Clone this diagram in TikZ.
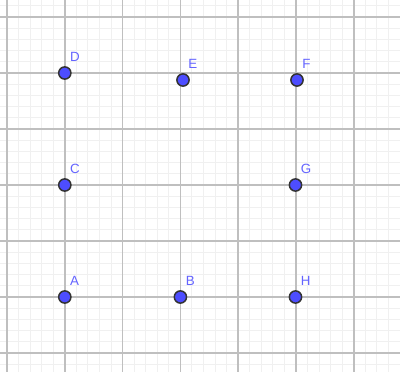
\documentclass[tikz,border=0pt]{standalone}
\usepackage{fontspec}
\setsansfont{Liberation Sans}
\usetikzlibrary{positioning}
\definecolor{ptblue}{RGB}{77,77,255}
\definecolor{lblblue}{RGB}{100,100,255}

\begin{document}
\begin{tikzpicture}[x=0.02cm, y=-0.02cm,
            minor/.style={draw=black!6, line width=0.02cm},
            major/.style={draw=black!25, line width=0.03cm},
            pt/.style={circle, draw=black!80, fill=ptblue, line width=0.03cm, minimum size=0.245cm, inner sep=0pt},
            lbl/.style={text=lblblue, inner sep=0pt, font=\sffamily\fontsize{7.6}{8}\selectfont}]
            \useasboundingbox (0,0) rectangle (400,372);
            \fill[white] (0,0) rectangle (400,372);
            \begin{scope}
                \clip (0,0) rectangle (400,372);
                \foreach \k in {-1,...,34} { \draw[minor] ({7+11.56*\k},0) -- ({7+11.56*\k},372); }
                \foreach \k in {-2,...,32} { \draw[minor] (0,{17+11.2*\k}) -- (400,{17+11.2*\k}); }
                \foreach \k in {0,...,6} { \draw[major] ({7+57.8*\k},0) -- ({7+57.8*\k},372); }
                \foreach \k in {0,...,6} { \draw[major] (0,{17+56*\k}) -- (400,{17+56*\k}); }
            \end{scope}
            \node[pt] (A) at (64.8,297) {};
            \node[pt] (B) at (180.4,297) {};
            \node[pt] (H) at (295.5,297) {};
            \node[pt] (C) at (64.8,185) {};
            \node[pt] (G) at (295.5,185) {};
            \node[pt] (D) at (64.8,73) {};
            \node[pt] (E) at (183,80) {};
            \node[pt] (F) at (297,80) {};
            \foreach \n in {A,B,C,D,E,F,G,H} {
                \node[lbl, above right=0.23cm and 0.1cm of \n.center] (l\n) {\n};
            }
        \end{tikzpicture}
\end{document}
